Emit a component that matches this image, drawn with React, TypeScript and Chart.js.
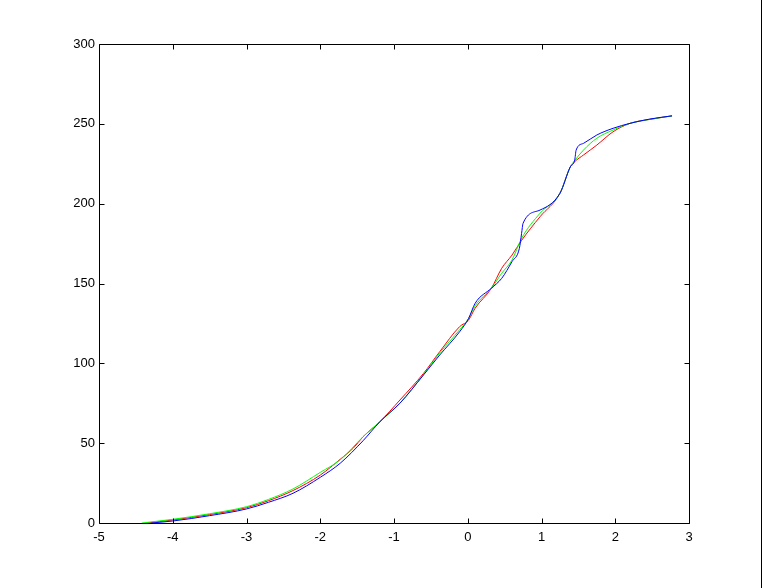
import React, { useEffect, useRef } from "react";
import { Chart, registerables } from "chart.js";

Chart.register(...registerables);

const xTicks = [-5, -4, -3, -2, -1, 0, 1, 2, 3];
const yTicks = [0, 50, 100, 150, 200, 250, 300];

const redX = [-4.36, -4.0, -3.5, -3.0, -2.7, -2.37, -2.0, -1.73, -1.55, -1.42, -1.19, -0.92, -0.6, -0.38, -0.11, 0.01, 0.1, 0.32, 0.46, 0.6, 0.73, 0.98, 1.25, 1.39, 1.45, 1.57, 1.75, 1.97, 2.2, 2.47, 2.77];
const redY = [0, 1.9, 5.3, 9.6, 14, 20.3, 30, 39.9, 47, 54, 63.5, 77, 93.7, 107.3, 123, 127, 134.5, 147, 159.5, 167.8, 177, 191.8, 206.5, 223, 226.3, 230.5, 236.7, 245, 250.3, 252.8, 255];

const greenX = [-4.42, -4.0, -3.5, -3.0, -2.7, -2.37, -2.0, -1.73, -1.42, -1.19, -0.92, -0.6, -0.38, -0.11, 0.01, 0.1, 0.32, 0.46, 0.6, 0.73, 0.98, 1.25, 1.39, 1.45, 1.57, 1.75, 1.97, 2.2, 2.47, 2.77];
const greenY = [0, 2.3, 5.8, 10.2, 14.8, 21.3, 31.7, 39.5, 54, 63.5, 75, 93, 106.5, 121, 128, 136, 147, 156.4, 164.7, 178.3, 194, 206.5, 223, 227, 233.6, 241, 246.1, 250.3, 252.8, 255];

const blueX = [-4.29, -4.0, -3.5, -3.0, -2.7, -2.37, -2.0, -1.73, -1.42, -1.19, -0.92, -0.6, -0.38, -0.11, 0.01, 0.1, 0.32, 0.46, 0.6, 0.7, 0.73, 0.75, 0.98, 1.25, 1.39, 1.45, 1.47, 1.57, 1.75, 1.97, 2.2, 2.47, 2.77];
const blueY = [0, 1.25, 4.6, 8.8, 13, 18.6, 28.6, 37.4, 51.5, 63.5, 75, 92.7, 105.2, 119.8, 128, 137.6, 147, 153.2, 163.7, 172, 181.4, 187.7, 196, 206.5, 223, 227.3, 233.6, 237.8, 243, 247.2, 250.3, 253, 255];

const toPoints = (xs: number[], ys: number[]) => xs.map((x, i) => ({ x, y: ys[i] }));

const framePlugin = {
  id: "matlabFrame",
  afterDatasetsDraw(chart: any) {
    const { ctx, chartArea, scales } = chart;
    const { left, right, top, bottom } = chartArea;
    const L = Math.round(left) + 0.5;
    const R = Math.round(right) + 0.5;
    const T = Math.round(top) + 0.5;
    const B = Math.round(bottom) + 0.5;
    ctx.save();
    ctx.strokeStyle = "#000";
    ctx.lineWidth = 1;
    ctx.beginPath();
    ctx.rect(L, T, R - L, B - T);
    const tl = 5;
    xTicks.forEach((v) => {
      const px = Math.round(scales.x.getPixelForValue(v)) + 0.5;
      ctx.moveTo(px, B);
      ctx.lineTo(px, B - tl);
      ctx.moveTo(px, T);
      ctx.lineTo(px, T + tl);
    });
    yTicks.forEach((v) => {
      const py = Math.round(scales.y.getPixelForValue(v)) + 0.5;
      ctx.moveTo(L, py);
      ctx.lineTo(L + tl, py);
      ctx.moveTo(R, py);
      ctx.lineTo(R - tl, py);
    });
    ctx.stroke();
    ctx.beginPath();
    ctx.moveTo(chart.width - 0.5, 0);
    ctx.lineTo(chart.width - 0.5, chart.height);
    ctx.stroke();
    ctx.restore();
  },
};

export default function App() {
  const canvasRef = useRef<HTMLCanvasElement | null>(null);

  useEffect(() => {
    document.body.style.margin = "0";
    const canvas = canvasRef.current;
    if (!canvas) return;
    const font = { family: "'Liberation Sans', Arial, sans-serif", size: 13 };
    const mk = (label: string, xs: number[], ys: number[], color: string) => ({
      label,
      data: toPoints(xs, ys),
      borderColor: color,
      backgroundColor: color,
      borderWidth: 1,
      pointRadius: 0,
      fill: false,
      cubicInterpolationMode: "monotone" as const,
    });
    const chart = new Chart(canvas, {
      type: "line",
      data: {
        datasets: [
          mk("B", blueX, blueY, "#0000ff"),
          mk("G", greenX, greenY, "#00ff00"),
          mk("R", redX, redY, "#ff0000"),
        ],
      },
      options: {
        animation: false,
        responsive: false,
        maintainAspectRatio: false,
        devicePixelRatio: 1,
        layout: { padding: { left: 0, top: 44, right: 73, bottom: 0 } },
        plugins: { legend: { display: false }, tooltip: { enabled: false } },
        scales: {
          x: {
            type: "linear",
            min: -5,
            max: 3,
            afterBuildTicks: (s: any) => {
              s.ticks = xTicks.map((v) => ({ value: v }));
            },
            afterFit: (s: any) => {
              s.height = 65;
            },
            grid: { display: false, drawTicks: false },
            border: { display: false },
            ticks: { color: "#000", font, padding: 7, maxRotation: 0, autoSkip: false },
          },
          y: {
            type: "linear",
            min: 0,
            max: 300,
            afterBuildTicks: (s: any) => {
              s.ticks = yTicks.map((v) => ({ value: v }));
            },
            afterFit: (s: any) => {
              s.width = 99;
            },
            grid: { display: false, drawTicks: false },
            border: { display: false },
            ticks: { color: "#000", font, padding: 4, autoSkip: false },
          },
        },
      },
      plugins: [framePlugin],
    });
    return () => chart.destroy();
  }, []);

  return (
    <div style={{ position: "fixed", left: 0, top: 0, width: 762, height: 588, background: "#fff" }}>
      <canvas ref={canvasRef} width={762} height={588} style={{ width: 762, height: 588, display: "block" }} />
    </div>
  );
}
